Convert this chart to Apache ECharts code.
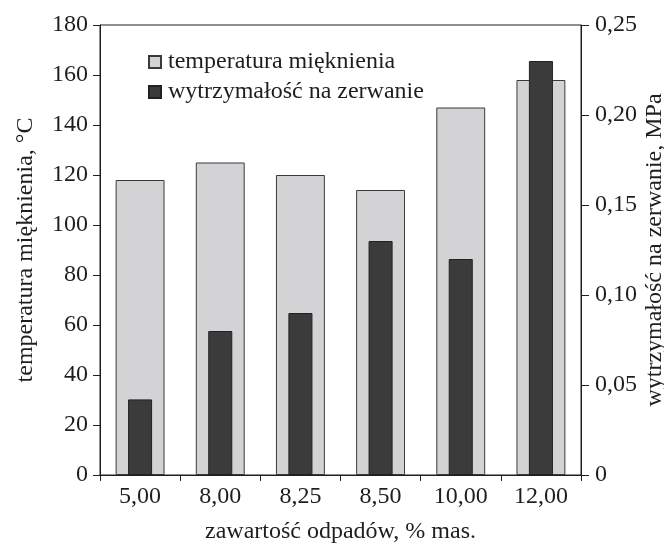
<!DOCTYPE html>
<html>
<head>
<meta charset="utf-8">
<script src="https://cdn.jsdelivr.net/npm/echarts@6/dist/echarts.min.js"></script>
<style>
html,body{margin:0;padding:0;background:#fff;}
#chart{width:664px;height:544px;}
</style>
</head>
<body>
<div id="chart"></div>
<script>
var categories = ['5,00', '8,00', '8,25', '8,50', '10,00', '12,00'];
var softeningTemp = [118, 125, 120, 114, 147, 158];
var tensileStrength = [0.042, 0.08, 0.09, 0.13, 0.12, 0.23];
var seriesNames = ['temperatura mięknienia', 'wytrzymałość na zerwanie'];

var FONT = 'Liberation Serif';
var TXT = '#1e1e1e';
var FS = 24;
var chart = echarts.init(document.getElementById('chart'), null, {renderer: 'canvas'});
chart.setOption({
  animation: false,
  backgroundColor: '#fff',
  textStyle: {fontFamily: FONT, color: TXT},
  grid: {left: 100, right: 83, top: 25, bottom: 69, containLabel: false, outerBoundsMode: 'none',
    show: true, borderColor: '#1e1e1e', borderWidth: 1, backgroundColor: 'transparent'},
  legend: {
    orient: 'vertical', left: 143, top: 45,
    itemWidth: 12, itemHeight: 12, itemGap: 6, icon: 'rect',
    textStyle: {fontFamily: FONT, fontSize: FS, color: TXT, padding: [0,0,0,2]},
    data: seriesNames
  },
  xAxis: [{
    type: 'category', data: categories, boundaryGap: true,
    axisLine: {lineStyle: {color: '#1e1e1e', width: 1}},
    axisTick: {show: true, length: 6, inside: false, lineStyle: {color: '#1e1e1e'}},
    axisLabel: {fontFamily: FONT, fontSize: FS, color: TXT, margin: 10},
    name: 'zawartość odpadów, % mas.', nameLocation: 'middle', nameGap: 45, nameMoveOverlap: false,
    nameTextStyle: {fontFamily: FONT, fontSize: FS, color: TXT}
  }, {
    type: 'category', data: categories, show: false
  }],
  yAxis: [{
    type: 'value', min: 0, max: 180, interval: 20, position: 'left',
    axisLine: {show: true, lineStyle: {color: '#1e1e1e', width: 1}},
    axisTick: {show: true, length: 7, lineStyle: {color: '#1e1e1e'}},
    splitLine: {show: false},
    axisLabel: {fontFamily: FONT, fontSize: FS, color: TXT, margin: 12},
    name: 'temperatura mięknienia, °C', nameLocation: 'middle', nameGap: 62, nameRotate: 90, nameMoveOverlap: false,
    nameTextStyle: {fontFamily: FONT, fontSize: FS, color: TXT}
  }, {
    type: 'value', min: 0, max: 0.25, interval: 0.05, position: 'right',
    axisLine: {show: true, lineStyle: {color: '#1e1e1e', width: 1}},
    axisTick: {show: true, length: 8, lineStyle: {color: '#1e1e1e'}},
    splitLine: {show: false},
    axisLabel: {fontFamily: FONT, fontSize: FS, color: TXT, margin: 14,
      formatter: function (v) { return v === 0 ? '0' : v.toFixed(2).replace('.', ','); }},
    name: 'wytrzymałość na zerwanie, MPa', nameLocation: 'middle', nameGap: 62, nameRotate: 90, nameMoveOverlap: false,
    nameTextStyle: {fontFamily: FONT, fontSize: FS, color: TXT}
  }],
  series: [{
    name: seriesNames[0], type: 'bar', xAxisIndex: 0, yAxisIndex: 0,
    data: softeningTemp, barWidth: '61%',
    itemStyle: {color: '#d3d3d5', borderColor: '#3a3a3a', borderWidth: 1}
  }, {
    name: seriesNames[1], type: 'bar', xAxisIndex: 1, yAxisIndex: 1,
    data: tensileStrength, barWidth: '30%',
    itemStyle: {color: '#3b3b3b', borderColor: '#222', borderWidth: 1}
  }]
});
</script>
</body>
</html>
